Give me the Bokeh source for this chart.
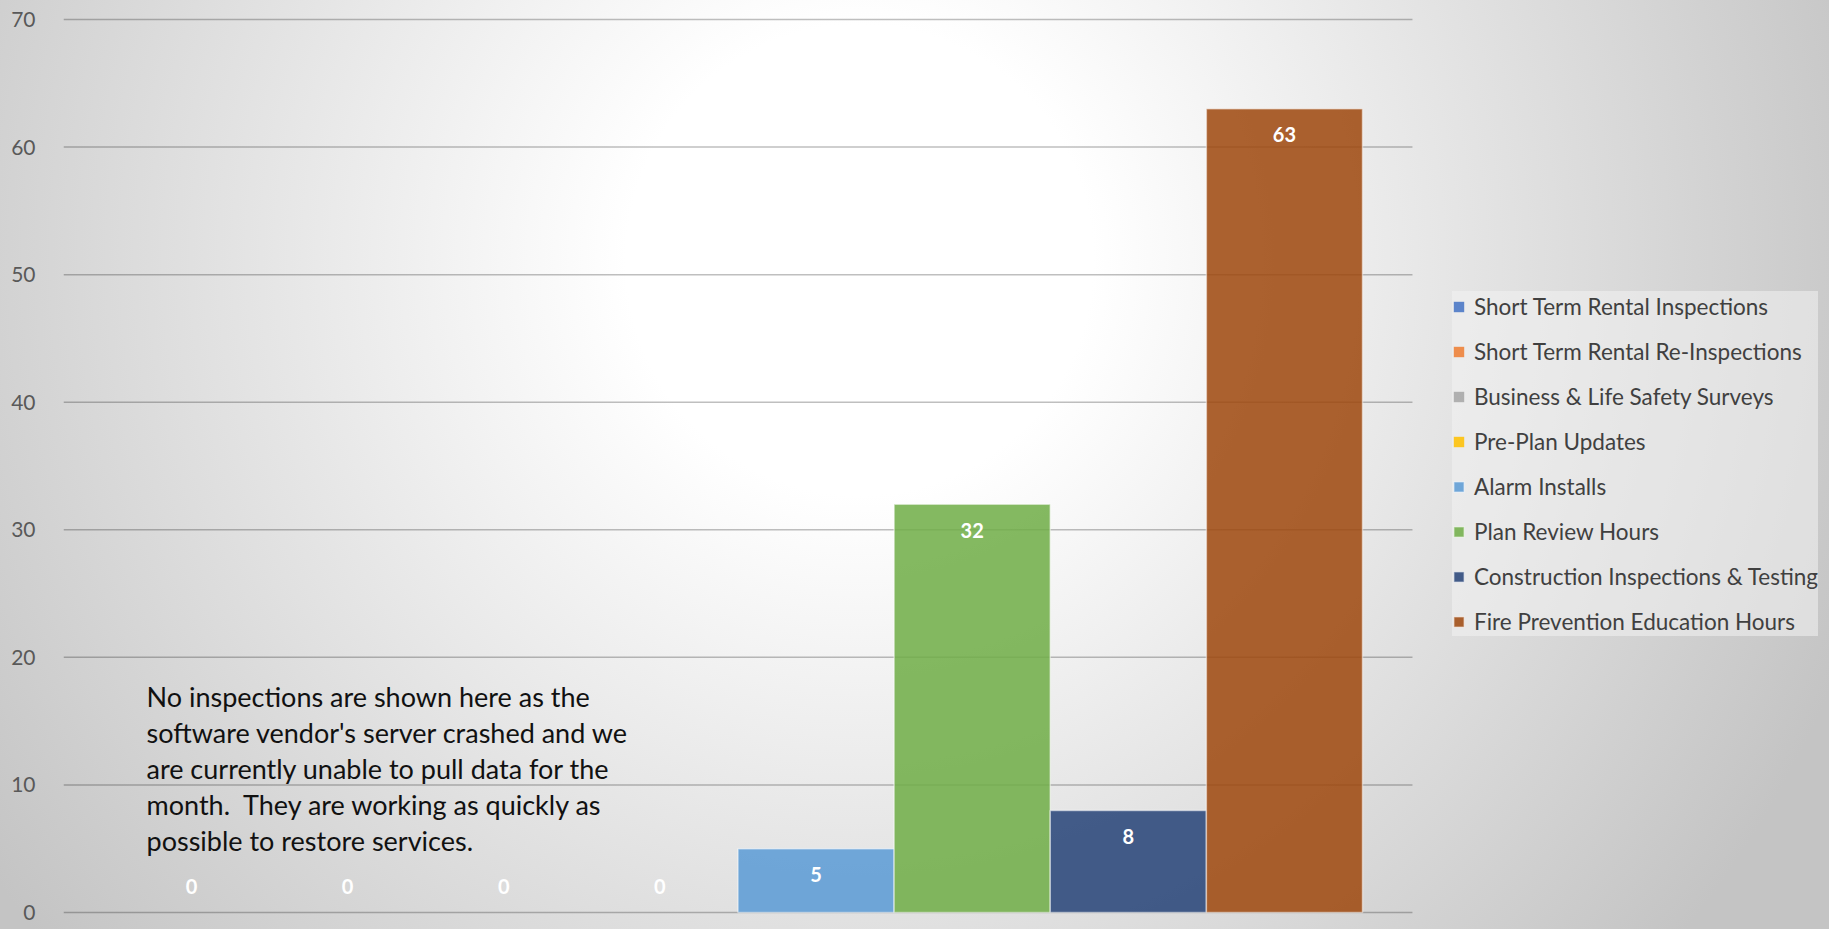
from bokeh.plotting import figure
from bokeh.models import ColumnDataSource, Range1d, Legend, LegendItem, Label, FixedTicker
from bokeh.core.properties import value
from bokeh.embed import file_html
from bokeh.resources import INLINE

# ---- data ----
series = [
    "Short Term Rental Inspections",
    "Short Term Rental Re-Inspections",
    "Business & Life Safety Surveys",
    "Pre-Plan Updates",
    "Alarm Installs",
    "Plan Review Hours",
    "Construction Inspections & Testing",
    "Fire Prevention Education Hours",
]
values = [0, 0, 0, 0, 5, 32, 8, 63]
colors = ["#4472C4", "#ED7D31", "#A5A5A5", "#FFC000", "#5B9BD5", "#70AD47", "#264478", "#9E480E"]
y_ticks = [0, 10, 20, 30, 40, 50, 60, 70]
note_lines = [
    "No inspections are shown here as the",
    "software vendor's server crashed and we",
    "are currently unable to pull data for the",
    "month.\u00a0 They are working as quickly as",
    "possible to restore services.",
]

FONT = "Lato"

# layout constants (pixels)
W, H = 1829, 929
LEFT, TOP, BOTTOM = 63, 17, 15
BAR_PX = 156.13          # pixel width of one bar
GAP = 0.32               # outer gap, in bar widths
frame_w = W - LEFT
x_start = -0.5 - GAP
x_end = x_start + frame_w / BAR_PX
plot_end = len(series) - 0.5 + GAP   # where the plot area (gridlines) ends

src = ColumnDataSource(dict(
    x=list(range(len(series))),
    series=series,
    values=values,
    colors=colors,
    label=[str(v) for v in values],
    yoff=[26 if v > 0 else -26 for v in values],
    edge=[0.5 if v > 0 else 0.0 for v in values],
))

p = figure(
    width=W, height=H,
    output_backend="svg", toolbar_location=None,
    x_range=Range1d(x_start, x_end),
    y_range=Range1d(-0.16, 70.16),
    min_border_left=LEFT, min_border_right=0,
    min_border_top=TOP, min_border_bottom=BOTTOM,
)
p.styles = {
    "background-image": "radial-gradient(ellipse 58% 115% at 47% 28%, #ffffff 0%, #ffffff 22%, #c4c4c4 100%)"
}
p.background_fill_alpha = 0
p.border_fill_alpha = 0
p.border_fill_color = None
p.background_fill_color = None
p.outline_line_color = None

# grid lines limited to the plot area
p.xgrid.visible = False
p.ygrid.visible = False
p.segment(
    x0=[x_start] * len(y_ticks), x1=[plot_end] * len(y_ticks),
    y0=y_ticks, y1=y_ticks,
    line_color="black", line_alpha=0.25, line_width=1.5, level="underlay",
)

# axes
p.xaxis.visible = False
ya = p.yaxis[0]
ya.ticker = FixedTicker(ticks=y_ticks)
ya.axis_line_color = None
ya.major_tick_line_color = None
ya.minor_tick_line_color = None
ya.major_label_standoff = 22
ya.major_label_text_font = FONT
ya.major_label_text_font_size = "21px"
ya.major_label_text_color = "#595959"

bars = p.vbar(
    x="x", top="values", width=1.0, source=src,
    fill_color="colors", fill_alpha=0.86,
    line_color="white", line_alpha="edge", line_width=1.5,
)

p.text(
    x="x", y="values", text="label", y_offset="yoff", source=src,
    text_align="center", text_baseline="middle",
    text_color="white", text_font=value(FONT), text_font_style="bold",
    text_font_size="20px",
)

# note
for i, line in enumerate(note_lines):
    p.add_layout(Label(
        x=83, y=218 - i * 36, x_units="screen", y_units="screen",
        text=line, text_font=FONT, text_font_size="27px",
        text_color="#111111", text_baseline="middle",
    ))

items = [LegendItem(label=s, renderers=[bars], index=i) for i, s in enumerate(series)]
leg = Legend(items=items)
leg.location = (1389, 278)
leg.label_text_font = FONT
leg.label_text_font_size = "22.5px"
leg.label_text_color = "#404040"
leg.label_height = 30
leg.glyph_height = 13
leg.glyph_width = 13
leg.spacing = 15
leg.padding = 13
leg.margin = 0
leg.label_standoff = 9
leg.background_fill_color = "#f2f2f2"
leg.background_fill_alpha = 0.55
leg.border_line_color = None
p.add_layout(leg, "center")

open("out.html", "w").write(file_html(p, INLINE))
